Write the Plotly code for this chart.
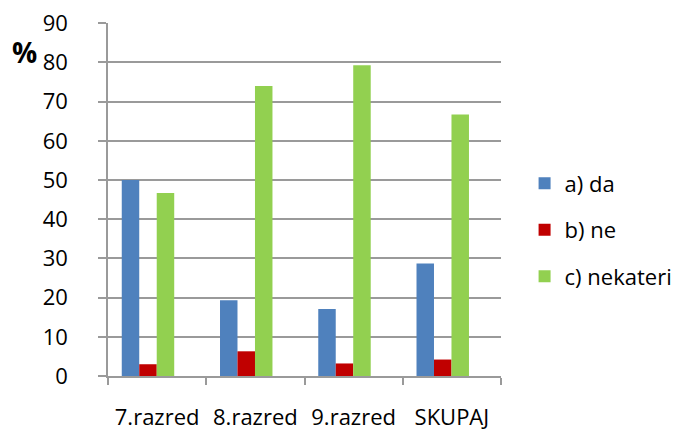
import plotly.graph_objects as go

categories = ["7.razred", "8.razred", "9.razred", "SKUPAJ"]
series_names = ["a) da", "b) ne", "c) nekateri"]
values_a = [50.0, 19.3, 17.1, 28.7]
values_b = [3.0, 6.3, 3.2, 4.2]
values_c = [46.7, 74.0, 79.3, 66.7]
colors = ["#4F81BD", "#C00000", "#92D050"]
y_ticks = [0, 10, 20, 30, 40, 50, 60, 70, 80, 90]

FONT = "Open Sans"
grid = "#9a9a9a"

fig = go.Figure()
bar_w = 0.178
offsets = [-0.36, -0.36 + bar_w, -0.36 + 2 * bar_w]
for name, vals, col, off in zip(series_names, [values_a, values_b, values_c], colors, offsets):
    fig.add_trace(go.Bar(
        x=categories, y=vals, name=name,
        marker=dict(color=col, line=dict(width=0)),
        width=bar_w, offset=off, legendgroup=name,
    ))

fig.update_layout(
    width=675, height=422,
    margin=dict(l=100, r=182, t=15, b=54, autoexpand=False),
    paper_bgcolor="white", plot_bgcolor="white",
    font=dict(family=FONT, size=22, color="#000000"),
    barmode="overlay",
    showlegend=True,
    legend=dict(
        x=1.06, xanchor="left", y=0.414, yanchor="middle",
        font=dict(family=FONT, size=22, color="#000000"),
        tracegroupgap=15, itemsizing="constant",
    ),
    xaxis=dict(
        type="category", categoryorder="array", categoryarray=categories,
        range=[-0.5, 3.5], automargin=False,
        showline=True, linecolor=grid, linewidth=1.5,
        ticks="outside", tickson="boundaries", ticklen=7, tickcolor=grid, tickwidth=1.5,
        showgrid=False, ticklabelstandoff=21, ticklabeloverflow="allow",
        tickfont=dict(family=FONT, size=22, color="#000000"),
    ),
    yaxis=dict(
        range=[0, 90.05], tickvals=y_ticks, automargin=False,
        showgrid=True, gridcolor=grid, gridwidth=1.5,
        showline=True, linecolor=grid, linewidth=1.5,
        ticks="outside", ticklen=8, tickcolor=grid, tickwidth=1.5,
        ticklabelstandoff=26, ticklabeloverflow="allow",
        tickfont=dict(family=FONT, size=22, color="#000000"),
        zeroline=False,
    ),
    annotations=[dict(
        text="<b>%</b>", xref="paper", yref="paper", x=-0.212, y=0.918,
        xanchor="center", yanchor="middle", showarrow=False,
        font=dict(family=FONT, size=28, color="#000000"),
    )],
)

fig.write_html("out.html")
